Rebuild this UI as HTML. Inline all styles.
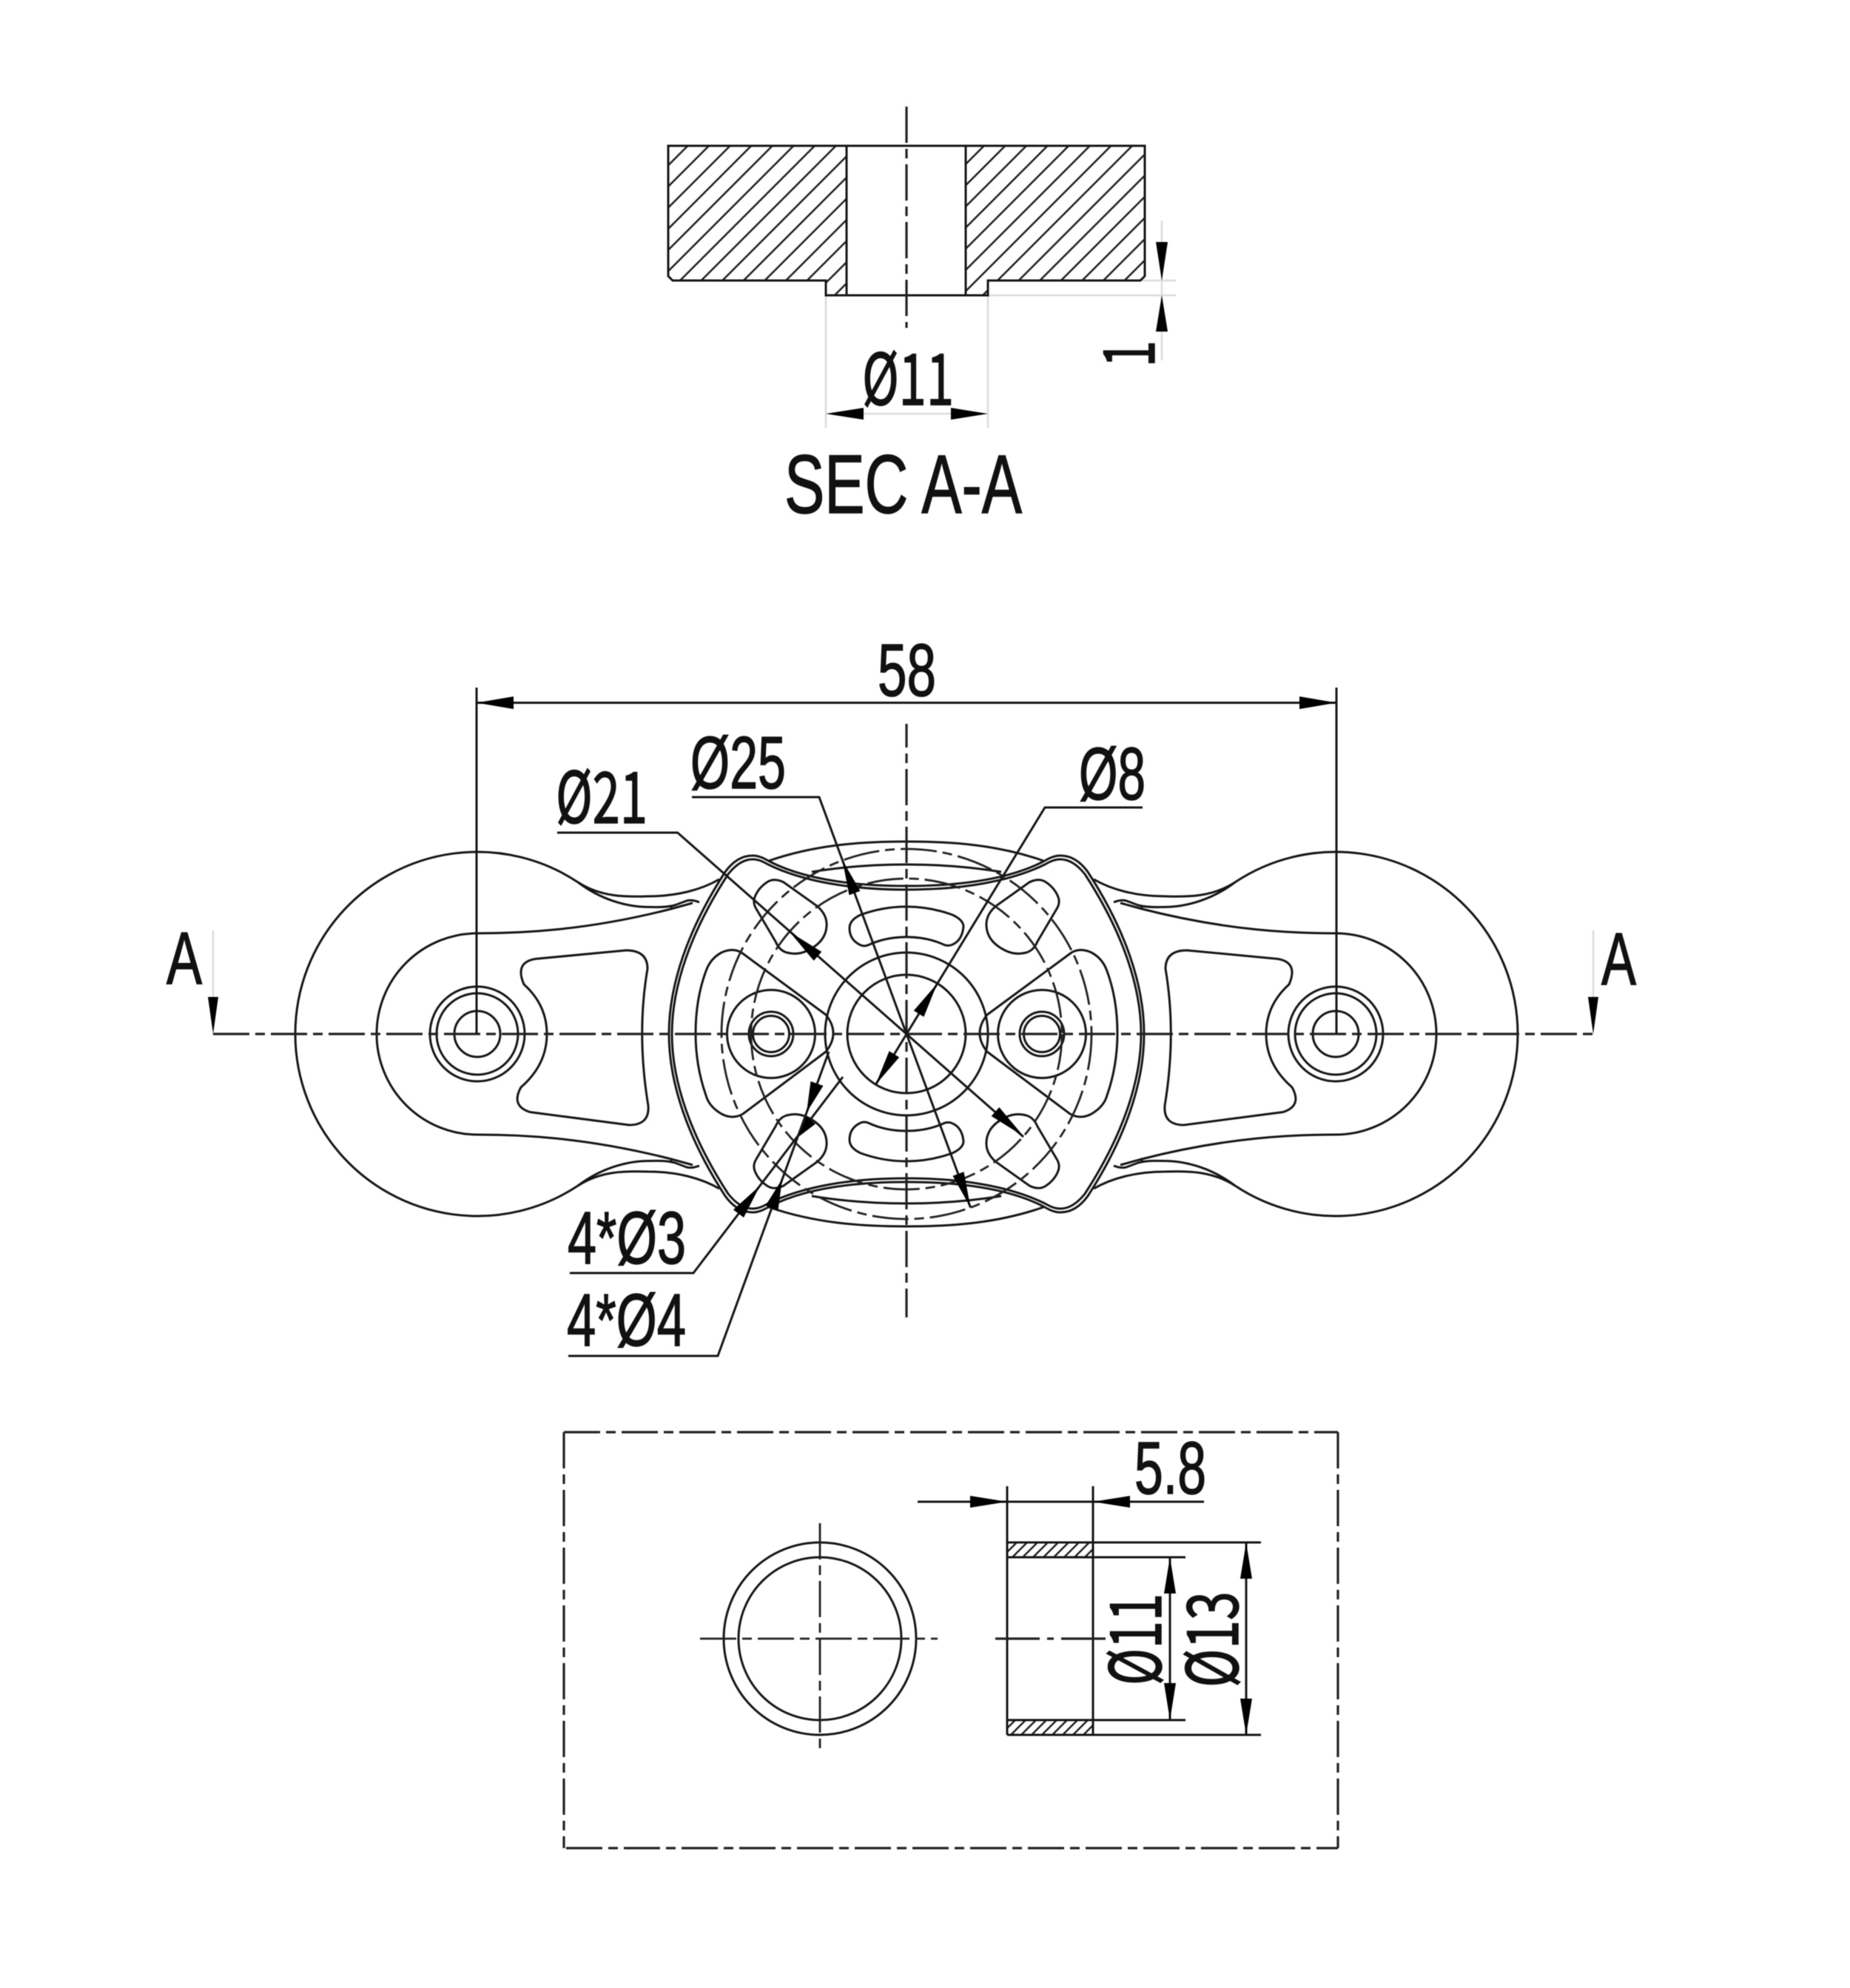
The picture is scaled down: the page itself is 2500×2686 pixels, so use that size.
<!DOCTYPE html>
<html><head><meta charset="utf-8"><title>SEC A-A drawing</title>
<style>
html,body{margin:0;padding:0;background:#fff}
svg{display:block;filter:blur(.45px)}
text{font-family:"Liberation Sans",sans-serif;font-size:100px;fill:#111;stroke:#111;stroke-width:1.5px}
text.n{font-family:"Noto Sans CJK SC","Liberation Sans",sans-serif;font-size:96px}
.o{fill:none;stroke:#161616;stroke-width:3}
.c{fill:none;stroke:#222;stroke-width:3.2;stroke-dasharray:49 8 13 8}
.g{fill:none;stroke:#dcdcdc;stroke-width:2.5}
.a{fill:#000;stroke:none}
</style></head><body>
<svg xmlns="http://www.w3.org/2000/svg" width="2500" height="2686" viewBox="0 0 2500 2686">
<defs>
<pattern id="h1" patternUnits="userSpaceOnUse" width="28.6" height="28.6" patternTransform="translate(11,0)">
<path d="M-1,29.6L29.6,-1M-2,2L2,-2M26.6,30.6L30.6,26.6" stroke="#1c1c1c" stroke-width="2.5" fill="none"/></pattern>
<pattern id="h2" patternUnits="userSpaceOnUse" width="14" height="14">
<path d="M-1,15L15,-1M-2,2L2,-2M12,16L16,12" stroke="#1c1c1c" stroke-width="2.4" fill="none"/></pattern>
<g id="wheelHalf" class="o">
<path d="M781,1192C812,1212 845,1212 875,1211C915,1211 948,1202 972,1188"/>
<path d="M781,1192C810,1214 845,1226 880,1225.5C895,1226 905,1225 912,1223L928,1217Q935,1215 945,1219"/>
<path d="M645,1261C700,1261 790,1258 907,1228L936,1220"/>
<path d="M907,1223.5V1229"/>
</g>
<g id="wheel" >
<path class="o" d="M781,1192A246,246 0 1,0 781,1602"/>
<path class="o" d="M645,1261A136,136 0 0,0 645,1533"/>
<use href="#wheelHalf"/>
<use href="#wheelHalf" transform="translate(0,2794) scale(1,-1)"/>
<circle class="o" cx="645" cy="1397" r="64"/>
<circle class="o" cx="645" cy="1397" r="55"/>
<circle class="o" cx="645" cy="1397" r="31"/>
<path class="o" d="M724,1295.5L846,1284Q875,1284 875,1309Q860,1397 876,1494Q878,1520 850,1520L716,1502.5Q690,1494 704,1469C727,1449 739,1425 739,1397C739,1370 728,1348 708,1330Q695,1300 724,1295.5Z"/>
</g>
<path id="corner" class="o" d="M1038,1191Q1047,1186 1059,1192L1104,1224Q1118,1236 1117,1251Q1116,1272 1092,1284Q1078,1291 1063,1287Q1053,1284 1048,1272L1022,1228Q1017,1220 1020,1212Q1025,1199 1038,1191Z"/>
<path id="slot" class="o" d="M1163,1236C1185,1228 1205,1225 1225,1225C1245,1225 1265,1228 1287,1236Q1302,1243 1302,1252Q1300,1272 1285,1277Q1282,1278 1277,1277C1260,1269 1243,1266 1225,1266C1207,1266 1190,1269 1173,1277Q1168,1279 1163,1277Q1148,1270 1148,1254Q1148,1243 1163,1236Z"/>
<g id="lens" class="o">
<path d="M1039,1163C1100,1142 1160,1137 1225,1137C1290,1137 1350,1142 1410,1163"/>
<path d="M1097,1178C1140,1171 1180,1168 1225,1168C1270,1168 1310,1171 1353,1178"/>
</g>
<g id="lobe">
<path class="o" d="M1002,1287L1116,1371Q1136,1396 1116,1421L1004,1505Q990,1513 975,1505Q958,1495 954,1480Q940,1440 940,1396Q940,1350 954,1312Q960,1295 975,1287Q990,1280 1002,1287Z"/>
<circle class="o" cx="1042" cy="1397" r="59.5"/>
<circle class="o" cx="1042" cy="1397" r="30"/>
<circle class="o" cx="1042" cy="1397" r="24.5"/>
</g>
</defs>
<rect width="2500" height="2686" fill="#fff"/>

<!-- SECTION VIEW -->
<path class="g" d="M1116,400V578M1335,400V578M1167,559H1285M1541,379H1589M1335,399H1589M1570,298V487"/>
<path d="M903,197H1144V399H1116V379H909L903,373Z" fill="url(#h1)"/>
<path d="M1305,197H1547V373L1541,379H1335V399H1305Z" fill="url(#h1)"/>
<path class="o" d="M903,197H1547V373L1541,379H1335V399H1116V379H909L903,373Z"/>
<path class="o" d="M1144,197V399M1305,197V399"/>
<path class="c" d="M1225,144V443"/>
<polygon class="a" points="1116,559 1167,551 1167,567"/>
<polygon class="a" points="1335,559 1285,551 1285,567"/>
<polygon class="a" points="1570,379 1562,327 1578,327"/>
<polygon class="a" points="1570,399 1562,448 1578,448"/>
<text class="n" x="1165" y="547" textLength="124" lengthAdjust="spacingAndGlyphs">Ø11</text>
<text class="n" transform="translate(1560,496) rotate(-90)" textLength="36" lengthAdjust="spacingAndGlyphs">1</text>
<text x="1060" y="693" style="font-size:112px" textLength="321" lengthAdjust="spacingAndGlyphs">SEC A-A</text>

<!-- MAIN VIEW -->
<use href="#wheel"/>
<use href="#wheel" transform="translate(2450,0) scale(-1,1)"/>
<path class="o" d="M1017,1156C1026,1156 1033,1160 1040,1164C1085,1187 1150,1197 1225,1197C1300,1197 1365,1187 1410,1164C1417,1160 1424,1156 1433,1156C1450,1156 1462,1167 1470,1178C1520,1255 1546,1330 1546,1397C1546,1464 1520,1539 1470,1616C1462,1627 1450,1638 1433,1638C1424,1638 1417,1634 1410,1630C1365,1607 1300,1597 1225,1597C1150,1597 1085,1607 1040,1630C1033,1634 1026,1638 1017,1638C1000,1638 988,1627 980,1616C930,1539 904,1464 904,1397C904,1330 930,1255 980,1178C988,1167 1000,1156 1017,1156Z"/>
<path class="o" d="M1017,1161C1025,1161 1031,1164 1038,1168C1085,1191 1150,1202 1225,1202C1300,1202 1365,1191 1412,1168C1419,1164 1425,1161 1433,1161C1447,1161 1458,1171 1466,1181C1516,1258 1542,1332 1542,1397C1542,1462 1516,1536 1466,1613C1458,1623 1447,1633 1433,1633C1425,1633 1419,1630 1412,1626C1365,1603 1300,1592 1225,1592C1150,1592 1085,1603 1038,1626C1031,1630 1025,1633 1017,1633C1003,1633 992,1623 984,1613C934,1536 908,1462 908,1397C908,1332 934,1258 984,1181C992,1171 1003,1161 1017,1161Z"/>
<use href="#lens"/>
<use href="#lens" transform="translate(0,2794) scale(1,-1)"/>
<use href="#lobe"/>
<use href="#lobe" transform="translate(2450,0) scale(-1,1)"/>
<use href="#corner"/>
<use href="#corner" transform="translate(2450,0) scale(-1,1)"/>
<use href="#corner" transform="translate(0,2794) scale(1,-1)"/>
<use href="#corner" transform="translate(2450,2794) scale(-1,-1)"/>
<use href="#slot"/>
<use href="#slot" transform="translate(0,2794) scale(1,-1)"/>
<circle class="o" cx="1225" cy="1397" r="110"/>
<circle class="o" cx="1225" cy="1397" r="80"/>
<circle class="c" cx="1225" cy="1397" r="250" style="stroke-width:2.8"/>
<circle class="c" cx="1225" cy="1397" r="210" style="stroke-width:2.8"/>
<path class="c" d="M288,1397H2153"/>
<path class="c" d="M1225,978V1780" style="stroke-dashoffset:17"/>
<path class="g" d="M288,1257V1347M2153,1257V1347"/>
<polygon class="a" points="288,1397 281,1347 295,1347"/>
<polygon class="a" points="2153,1397 2146,1347 2160,1347"/>
<text x="225" y="1329" textLength="48" lengthAdjust="spacingAndGlyphs">A</text>
<text x="2164" y="1330" textLength="47" lengthAdjust="spacingAndGlyphs">A</text>

<!-- dim 58 -->
<path class="o" d="M644,929V1397M1806,929V1397M644,949.5H1806"/>
<polygon class="a" points="644,949.5 694,941 694,958"/>
<polygon class="a" points="1806,949.5 1756,941 1756,958"/>
<text x="1186" y="940" textLength="79" lengthAdjust="spacingAndGlyphs">58</text>

<!-- leaders -->
<path class="o" d="M753,1125H915.6L1383,1536"/>
<polygon class="a" points="1067,1259 1099.7,1298 1110.3,1286"/>
<polygon class="a" points="1383,1535 1339.7,1508 1350.3,1496"/>
<text class="n" x="751" y="1112" textLength="124" lengthAdjust="spacingAndGlyphs">Ø21</text>

<path class="o" d="M935,1077H1107L1311.5,1631.5"/>
<polygon class="a" points="1138.5,1162.5 1147.5,1209.4 1162.5,1203.8"/>
<polygon class="a" points="1311.5,1631.5 1287.5,1588.8 1302.5,1583.2"/>
<text x="933" y="1065" textLength="129" lengthAdjust="spacingAndGlyphs">Ø25</text>

<path class="o" d="M1544,1091H1412L1183.4,1465.3"/>
<polygon class="a" points="1266.6,1328.7 1248.4,1373.9 1234.8,1365.5"/>
<polygon class="a" points="1183.4,1465.3 1215.2,1428.5 1201.6,1420.1"/>
<text x="1458" y="1080" textLength="90" lengthAdjust="spacingAndGlyphs">Ø8</text>

<path class="o" d="M770,1720H937L1139,1455"/>
<polygon class="a" points="1027,1602 1005,1645 991,1634.5"/>
<polygon class="a" points="1075,1539 1102,1518.5 1088,1507.5"/>
<text x="767" y="1707" textLength="160" lengthAdjust="spacingAndGlyphs">4*Ø3</text>

<path class="o" d="M768,1832H970L1120,1421"/>
<polygon class="a" points="1057,1593 1051.5,1635 1034.5,1629"/>
<polygon class="a" points="1090,1503 1112.5,1467 1095.5,1461"/>
<text x="766" y="1818" textLength="161" lengthAdjust="spacingAndGlyphs">4*Ø4</text>

<!-- BOTTOM BOX -->
<path class="c" d="M762,1935H1808"/>
<path class="c" d="M762,1935V2497"/>
<path class="c" d="M765,2497H1808"/>
<path class="c" d="M1808,1935V2497"/>
<circle class="o" cx="1108" cy="2214" r="130"/>
<circle class="o" cx="1108" cy="2214" r="110"/>
<path class="c" style="stroke-width:2.8" d="M946,2214H1267"/>
<path class="c" style="stroke-width:2.8" d="M1108,2058V2370"/>
<rect x="1361" y="2084" width="116" height="20" fill="url(#h2)"/>
<rect x="1361" y="2324" width="116" height="20" fill="url(#h2)"/>
<path class="o" d="M1361,2008V2344M1477,2008V2344M1361,2084H1704M1361,2104H1602M1361,2324H1602M1361,2344H1704"/>
<path class="o" d="M1240,2029H1627M1581,2104V2324M1684,2084V2344"/>
<path class="c" d="M1345,2214H1495" style="stroke-dasharray:60 10 9 10"/>
<polygon class="a" points="1361,2029 1311,2021 1311,2037"/>
<polygon class="a" points="1477,2029 1527,2021 1527,2037"/>
<polygon class="a" points="1581,2104 1573,2153 1589,2153"/>
<polygon class="a" points="1581,2324 1573,2274 1589,2274"/>
<polygon class="a" points="1684,2084 1676,2133 1692,2133"/>
<polygon class="a" points="1684,2344 1676,2295 1692,2295"/>
<text x="1533" y="2018" textLength="97" lengthAdjust="spacingAndGlyphs">5.8</text>
<text class="n" transform="translate(1569,2277) rotate(-90)" textLength="124" lengthAdjust="spacingAndGlyphs">Ø11</text>
<text class="n" transform="translate(1673,2280) rotate(-90)" textLength="130" lengthAdjust="spacingAndGlyphs">Ø13</text>
</svg>
</body></html>
